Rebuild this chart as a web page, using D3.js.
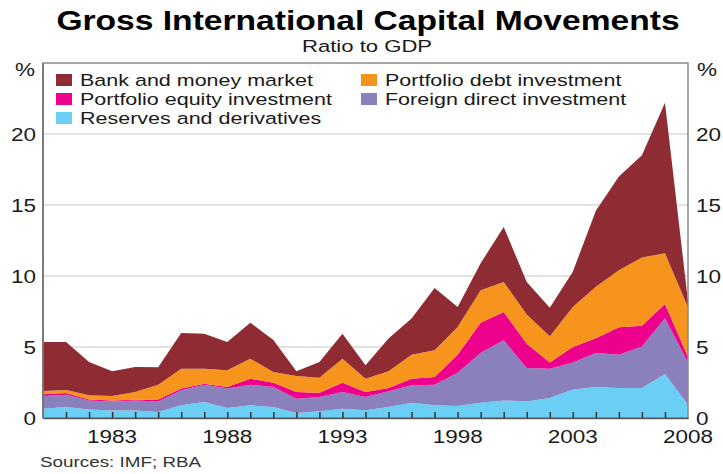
<!DOCTYPE html>
<html lang="en">
    <head>
        <meta charset="utf-8">
        <title>Gross International Capital Movements</title>
        <script src="https://d3js.org/d3.v7.min.js"></script>
        <style type="text/css">
            body { margin: 0; background: #fff; }
            text { font-family: "Liberation Sans", Arial, sans-serif; fill: #1a1a1a; }
        </style>
    </head>
    <body>
        <script type="text/javascript">

        // Data (per cent of GDP)

        const years = d3.range(1980, 2009);

        const reserves = [0.66, 0.77, 0.59, 0.52, 0.52, 0.42, 0.89, 1.13, 0.70, 0.89,
                          0.77, 0.35, 0.47, 0.66, 0.54, 0.77, 1.08, 0.89, 0.85, 1.08,
                          1.24, 1.17, 1.41, 2.00, 2.18, 2.11, 2.11, 3.09, 0.94];
        const fdi      = [0.89, 0.87, 0.65, 0.65, 0.72, 0.75, 1.06, 1.22, 1.37, 1.46,
                          1.41, 1.01, 1.01, 1.17, 0.94, 1.11, 1.22, 1.46, 2.34, 3.52,
                          4.23, 2.35, 2.06, 1.90, 2.39, 2.34, 2.93, 3.94, 2.96];
        const equity   = [0.12, 0.12, 0.07, 0.07, 0.05, 0.14, 0.12, 0.07, 0.11, 0.42,
                          0.31, 0.47, 0.30, 0.66, 0.35, 0.23, 0.47, 0.54, 1.27, 2.11,
                          1.99, 1.71, 0.43, 1.10, 1.05, 1.94, 1.45, 1.00, 0.40];
        const debt     = [0.23, 0.21, 0.29, 0.31, 0.54, 1.04, 1.40, 1.05, 1.18, 1.41,
                          0.75, 1.12, 1.06, 1.69, 0.94, 1.18, 1.69, 1.88, 1.95, 2.28,
                          2.12, 2.05, 1.85, 2.82, 3.63, 4.01, 4.81, 3.57, 3.50];
        const bank     = [3.45, 3.38, 2.34, 1.74, 1.77, 1.22, 2.52, 2.47, 1.99, 2.53,
                          2.26, 0.34, 1.10, 1.76, 0.94, 2.30, 2.54, 4.38, 1.41, 1.91,
                          3.87, 2.30, 2.02, 2.48, 5.35, 6.60, 7.20, 10.60, 0.40];

        const seriesKeys   = ["reserves", "fdi", "equity", "debt", "bank"];
        const seriesNames  = ["Reserves and derivatives", "Foreign direct investment",
                              "Portfolio equity investment", "Portfolio debt investment",
                              "Bank and money market"];
        const seriesColors = ["#6bcff5", "#8a80bc", "#ec008c", "#f7941e", "#8e2b33"];

        const yTicks = [0, 5, 10, 15, 20];
        const xLabels = [1983, 1988, 1993, 1998, 2003, 2008];

        // Constants

        const w = 723;
        const h = 474;
        const plotL = 43, plotR = 688, plotT = 63, plotB = 418;
        const sx = 1.25; // the original lettering is a bit wide

        const table = years.map((y, i) => ({
            year: y, reserves: reserves[i], fdi: fdi[i], equity: equity[i],
            debt: debt[i], bank: bank[i]
        }));

        const svg = d3.select("body")
                      .append("svg")
                      .attr("width", w)
                      .attr("height", h);

        const xScale = d3.scaleLinear()
                         .domain([1980, 2008])
                         .range([plotL, plotR]);

        const yScale = d3.scaleLinear()
                         .domain([0, 25])
                         .range([plotB, plotT]);

        function label(x, y, str, size, anchor, opts) {
            opts = opts || {};
            return svg.append("text")
                      .attr("transform", "translate(" + x + "," + y + ") scale(" + (opts.sx || sx) + ",1)")
                      .attr("font-size", size + "px")
                      .attr("font-weight", opts.bold ? "bold" : "normal")
                      .attr("text-anchor", anchor)
                      .text(str);
        }

        // Gridlines
        svg.append("g")
           .selectAll("line")
           .data(yTicks.filter(d => d > 0))
           .enter()
           .append("line")
           .attr("x1", plotL)
           .attr("x2", plotR)
           .attr("y1", d => yScale(d))
           .attr("y2", d => yScale(d))
           .attr("stroke", "#d8d8d8")
           .attr("stroke-width", 1.5);

        // Stacked areas
        const stack = d3.stack().keys(seriesKeys);
        const layers = stack(table);

        const area = d3.area()
                       .x(d => xScale(d.data.year))
                       .y0(d => yScale(d[0]))
                       .y1(d => yScale(d[1]));

        svg.append("g")
           .selectAll("path")
           .data(layers)
           .enter()
           .append("path")
           .attr("d", area)
           .attr("fill", (d, i) => seriesColors[i]);

        // Frame
        svg.append("rect")
           .attr("x", plotL)
           .attr("y", plotT)
           .attr("width", plotR - plotL)
           .attr("height", plotB - plotT)
           .attr("fill", "none")
           .attr("stroke", "#8a8a8a")
           .attr("stroke-width", 1.5);

        // left edge reads darker in the original
        svg.append("line")
           .attr("x1", plotL).attr("x2", plotL)
           .attr("y1", plotT).attr("y2", plotB)
           .attr("stroke", "#6e6e6e")
           .attr("stroke-width", 1.5);

        // Year ticks (inside, pointing up)
        const bottomAxis = d3.axisBottom(xScale)
                             .tickValues(d3.range(1981, 2008))
                             .tickSizeInner(-6)
                             .tickSizeOuter(0)
                             .tickFormat("");

        svg.append("g")
           .attr("transform", "translate(0," + plotB + ")")
           .call(bottomAxis)
           .call(g => g.select(".domain").attr("stroke", "#555").attr("stroke-width", 1.5))
           .call(g => g.selectAll(".tick line").attr("stroke", "#333").attr("stroke-width", 1.5));

        // Year labels
        svg.append("g")
           .selectAll("text")
           .data(xLabels)
           .enter()
           .append("text")
           .attr("transform", d => "translate(" + xScale(d) + "," + 443 + ") scale(" + sx + ",1)")
           .attr("font-size", "18px")
           .attr("text-anchor", "middle")
           .text(d => d);

        // Y labels, both sides
        yTicks.forEach(t => {
            label(plotL - 7, yScale(t) + 6.5, t, 18, "end");
            label(plotR + 8, yScale(t) + 6.5, t, 18, "start");
        });
        label(35, 76, "%", 18, "end");
        label(697, 76, "%", 18, "start");

        // Legend
        const legendPos = [
            {k: 4, x: 56, y: 86},
            {k: 2, x: 56, y: 105},
            {k: 0, x: 56, y: 124},
            {k: 3, x: 361, y: 86},
            {k: 1, x: 361, y: 105}
        ];

        legendPos.forEach(p => {
            svg.append("rect")
               .attr("x", p.x)
               .attr("y", p.y - 12)
               .attr("width", 16)
               .attr("height", 12)
               .attr("fill", seriesColors[p.k]);
            label(p.x + 24, p.y, seriesNames[p.k], 17.2, "start");
        });

        // Titles
        label(368, 30, "Gross International Capital Movements", 28, "middle", {bold: true, sx: 1.2})
            .style("fill", "#000");
        label(367, 52, "Ratio to GDP", 17, "middle", {sx: 1.3});

        label(40, 467, "Sources: IMF; RBA", 14.5, "start", {sx: 1.3})
            .style("fill", "#333");

        </script>
    </body>
</html>
